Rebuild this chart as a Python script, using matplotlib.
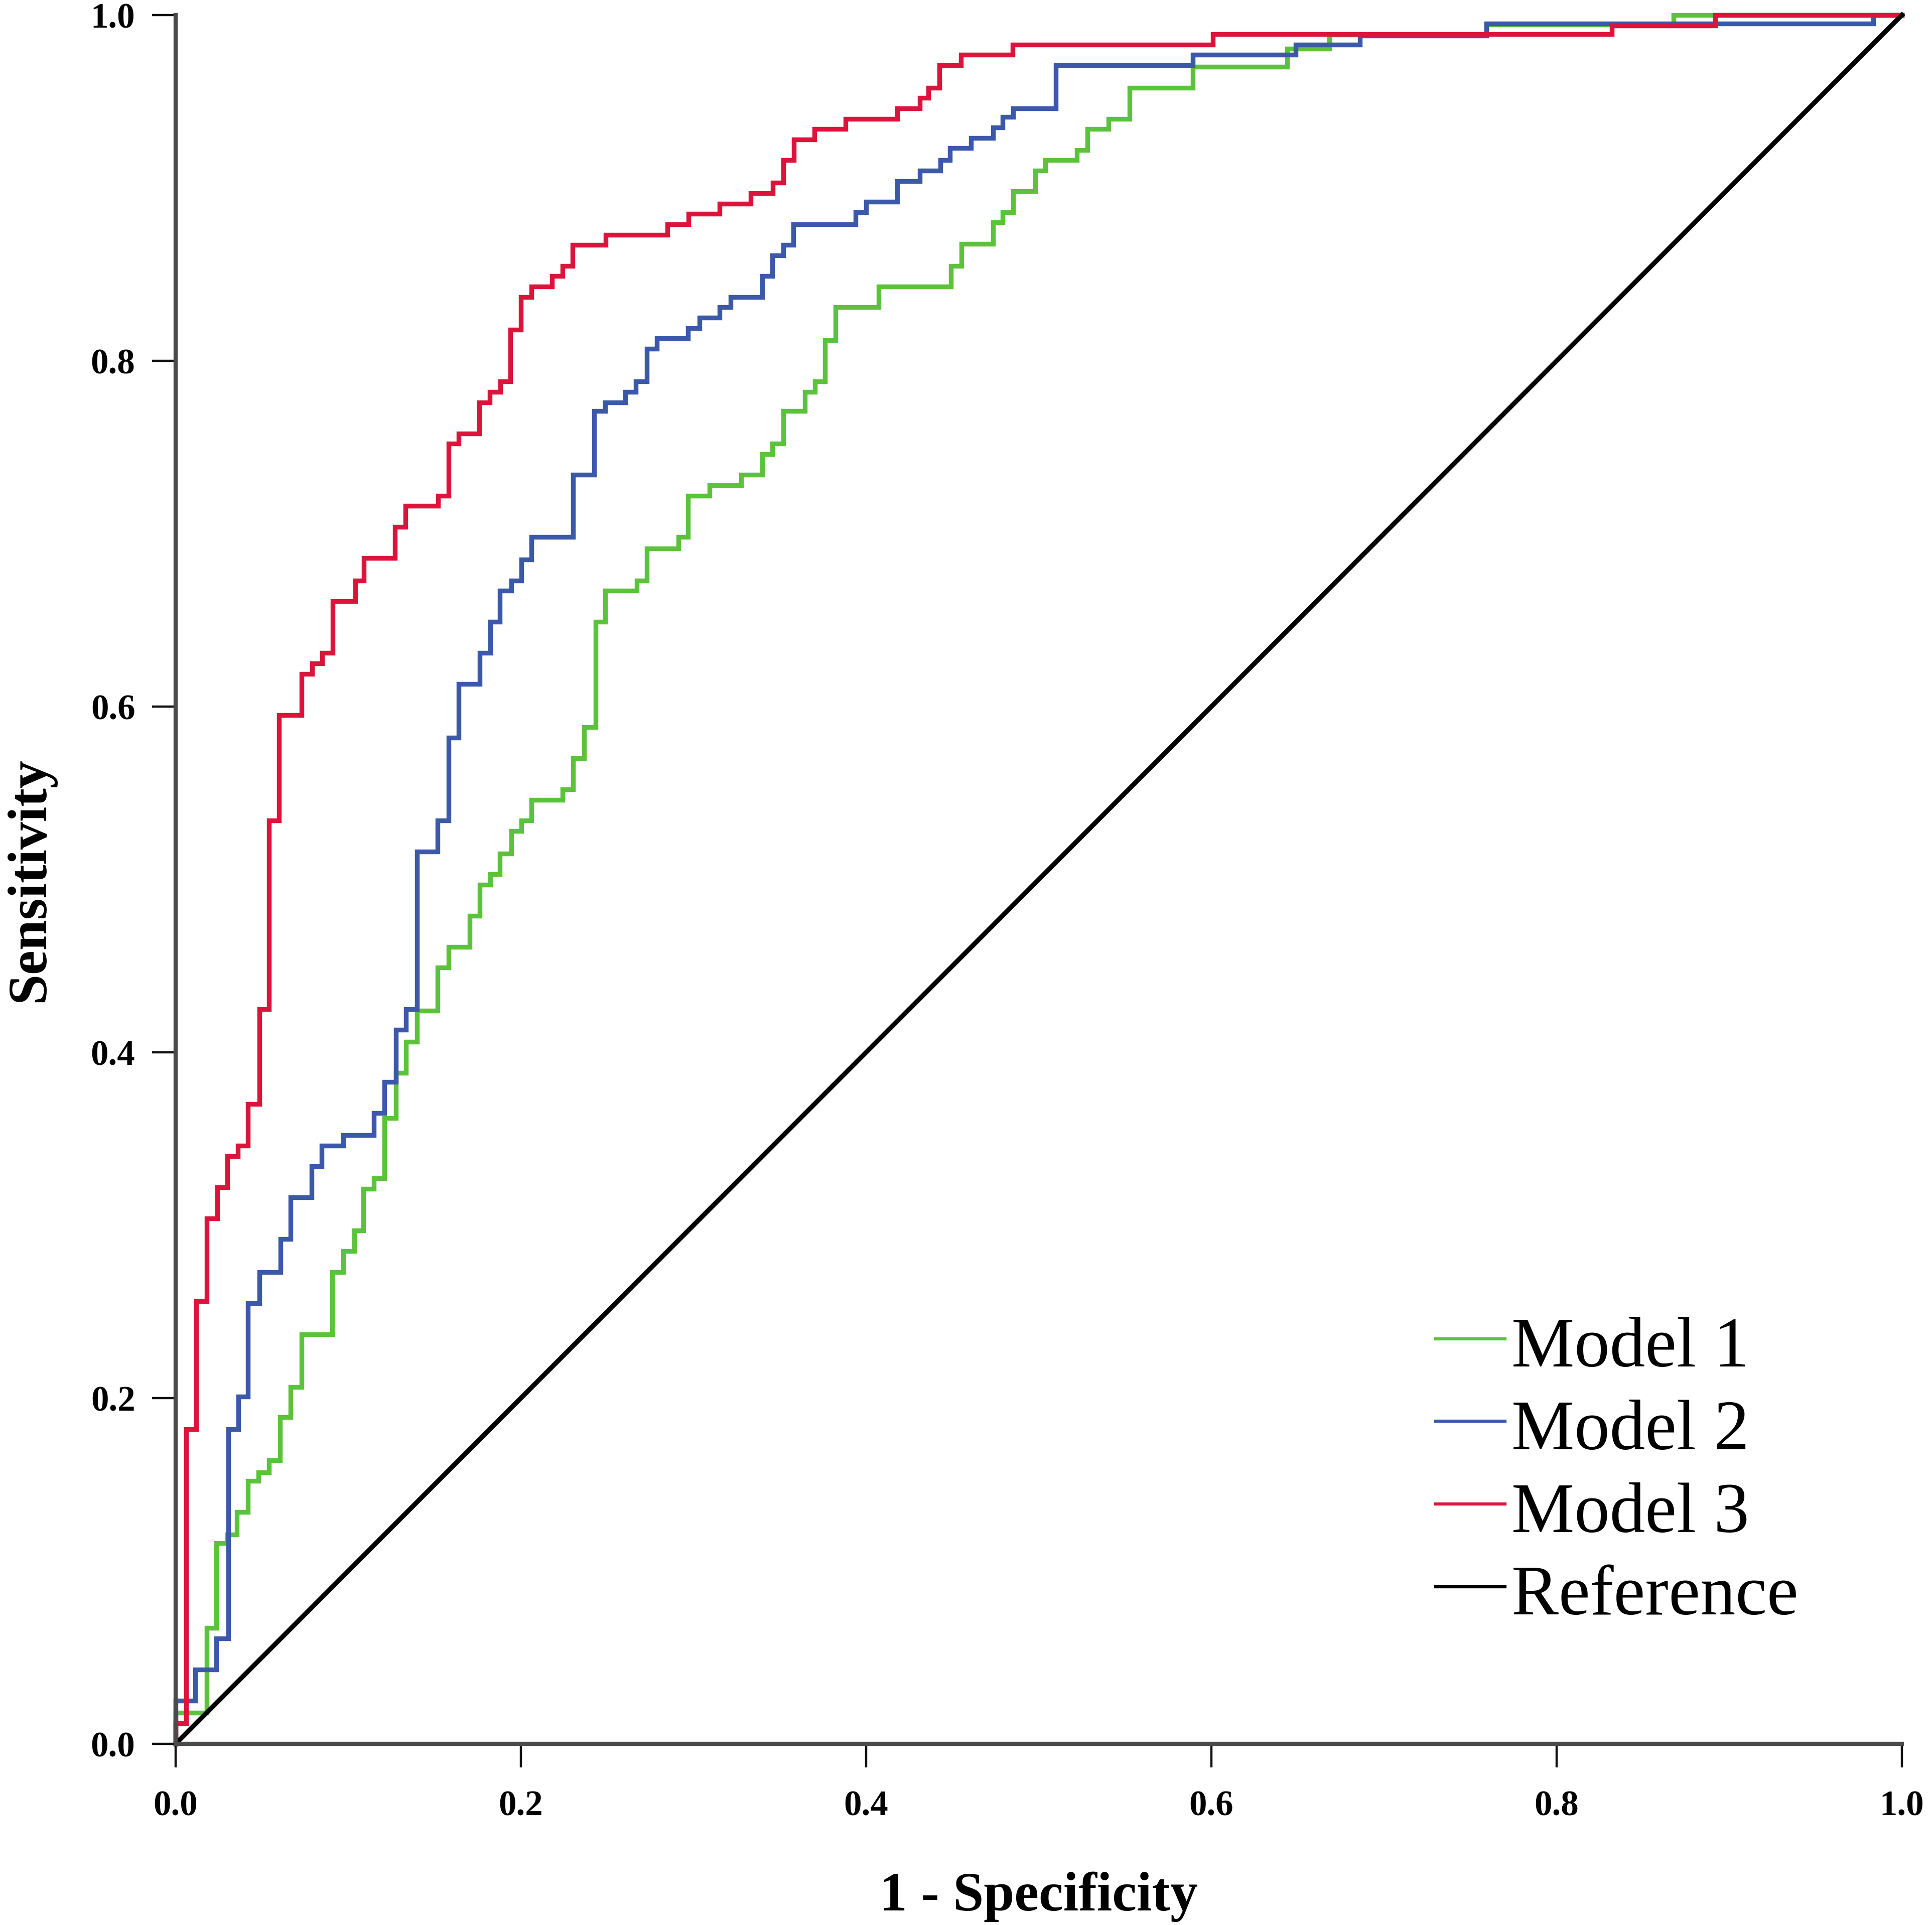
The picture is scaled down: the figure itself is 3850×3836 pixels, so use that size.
import matplotlib
matplotlib.use("Agg")
import matplotlib.pyplot as plt

plt.rcParams['font.family'] = ['Liberation Serif', 'DejaVu Serif']

# ---- data (ROC step corners: at fpr[i] the curve rises to tpr[i]) ----
series_names = ["Model 1", "Model 2", "Model 3", "Reference"]

fpr_model1 = [0, 0, 0.018, 0.0235, 0.030, 0.0355, 0.042, 0.048, 0.054, 0.0605, 0.0667,
              0.0729, 0.0908, 0.0971, 0.1036, 0.1088, 0.1147, 0.121, 0.1277, 0.1334, 0.1399,
              0.1516, 0.1581, 0.1703, 0.1762, 0.1822, 0.1879, 0.1944, 0.2004, 0.2061, 0.2242,
              0.2302, 0.2367, 0.2432, 0.2489, 0.2671, 0.2730, 0.2912, 0.2969, 0.3094, 0.3276,
              0.3398, 0.3457, 0.3519, 0.3644, 0.3703, 0.3763, 0.3824, 0.4072, 0.449, 0.4551,
              0.4735, 0.4792, 0.4853, 0.498, 0.5037, 0.522, 0.5281, 0.5404, 0.5526, 0.5893,
              0.6438, 0.6683, 0.7594, 0.8677, 1.0]
tpr_model1 = [0, 0.018, 0.067, 0.116, 0.121, 0.134, 0.152, 0.157, 0.164, 0.189, 0.2065,
              0.237, 0.273, 0.285, 0.297, 0.321, 0.327, 0.362, 0.388, 0.406, 0.424,
              0.449, 0.461, 0.479, 0.497, 0.503, 0.515, 0.528, 0.534, 0.546, 0.552,
              0.570, 0.588, 0.649, 0.667, 0.673, 0.6915, 0.698, 0.722, 0.728, 0.734,
              0.746, 0.752, 0.771, 0.782, 0.788, 0.812, 0.831, 0.843, 0.855, 0.8675,
              0.880, 0.886, 0.898, 0.910, 0.916, 0.922, 0.934, 0.940, 0.958, 0.970,
              0.9805, 0.9886, 0.9946, 1.0, 1.0]

fpr_model2 = [0, 0, 0.0114, 0.0235, 0.0305, 0.0364, 0.042, 0.0485, 0.0607, 0.0665, 0.0789,
              0.0846, 0.0971, 0.1147, 0.121, 0.1277, 0.1334, 0.1399, 0.1516, 0.1581, 0.164,
              0.1762, 0.1822, 0.1879, 0.1944, 0.2004, 0.2061, 0.2302, 0.2424, 0.2489, 0.2606,
              0.2666, 0.2730, 0.2788, 0.2969, 0.3034, 0.3151, 0.3216, 0.3398, 0.3457, 0.3519,
              0.3579, 0.394, 0.400, 0.418, 0.431, 0.443, 0.4486, 0.4608, 0.4735, 0.4792,
              0.4853, 0.5098, 0.5893, 0.6489, 0.686, 0.7594, 0.9834, 1.0]
tpr_model2 = [0, 0.025, 0.043, 0.061, 0.182, 0.201, 0.255, 0.273, 0.292, 0.316, 0.334,
              0.346, 0.352, 0.365, 0.383, 0.413, 0.425, 0.516, 0.534, 0.582, 0.613,
              0.631, 0.649, 0.667, 0.673, 0.685, 0.698, 0.734, 0.771, 0.776, 0.782,
              0.788, 0.807, 0.813, 0.819, 0.825, 0.831, 0.837, 0.849, 0.861, 0.867,
              0.879, 0.886, 0.892, 0.904, 0.910, 0.916, 0.923, 0.929, 0.935, 0.941,
              0.946, 0.971, 0.977, 0.983, 0.988, 0.995, 1.0, 1.0]

fpr_model3 = [0, 0, 0.006, 0.012, 0.018, 0.024, 0.030, 0.036, 0.042, 0.0485, 0.054,
              0.060, 0.073, 0.079, 0.085, 0.091, 0.104, 0.109, 0.127, 0.133, 0.152,
              0.158, 0.164, 0.176, 0.182, 0.188, 0.194, 0.200, 0.206, 0.218, 0.224,
              0.230, 0.249, 0.285, 0.297, 0.315, 0.333, 0.346, 0.352, 0.358, 0.370,
              0.388, 0.418, 0.431, 0.436, 0.4425, 0.455, 0.485, 0.601, 0.832, 0.892, 1.0]
tpr_model3 = [0, 0.012, 0.182, 0.256, 0.304, 0.322, 0.340, 0.346, 0.370, 0.425, 0.534,
              0.595, 0.619, 0.625, 0.631, 0.661, 0.673, 0.686, 0.704, 0.716, 0.722,
              0.752, 0.758, 0.776, 0.782, 0.788, 0.818, 0.837, 0.843, 0.849, 0.855,
              0.867, 0.873, 0.879, 0.885, 0.891, 0.897, 0.903, 0.916, 0.928, 0.934,
              0.940, 0.946, 0.952, 0.958, 0.971, 0.977, 0.983, 0.989, 0.994, 1.0, 1.0]

ref_x = [0.0, 1.0]
ref_y = [0.0, 1.0]

tick_values = [0.0, 0.2, 0.4, 0.6, 0.8, 1.0]
tick_labels = ["0.0", "0.2", "0.4", "0.6", "0.8", "1.0"]

colors = ["#5CC23C", "#3B58A9", "#DC143C", "#000000"]

# ---- figure ----
W, H = 3850, 3837
fig = plt.figure(figsize=(W / 100, H / 100), dpi=100)
ax = fig.add_axes([350 / W, (H - 3476) / H, 3440 / W, 3445 / H])

lw = 6.8
ax.plot(fpr_model1, tpr_model1, drawstyle="steps-post", color=colors[0], lw=lw,
        clip_on=False, solid_joinstyle="miter", label=series_names[0])
ax.plot(fpr_model2, tpr_model2, drawstyle="steps-post", color=colors[1], lw=lw,
        clip_on=False, solid_joinstyle="miter", label=series_names[1])
ax.plot(fpr_model3, tpr_model3, drawstyle="steps-post", color=colors[2], lw=lw,
        clip_on=False, solid_joinstyle="miter", label=series_names[2])
ax.plot(ref_x, ref_y, color=colors[3], lw=lw, clip_on=False, label=series_names[3])

ax.set_xlim(0, 1)
ax.set_ylim(0, 1)

for side in ["top", "right"]:
    ax.spines[side].set_visible(False)
for side in ["left", "bottom"]:
    ax.spines[side].set_linewidth(6.0)
    ax.spines[side].set_color("#4a4a4a")

ax.set_xticks(tick_values)
ax.set_xticklabels(tick_labels)
ax.set_yticks(tick_values)
ax.set_yticklabels(tick_labels)
ax.tick_params(axis="both", direction="out", length=34, width=3.2, color="#111111")
ax.tick_params(axis="x", pad=32)
ax.tick_params(axis="y", pad=24)
for lab in ax.get_xticklabels() + ax.get_yticklabels():
    lab.set_fontsize(51)
    lab.set_fontweight("bold")

ax.set_xlabel("1 - Specificity", fontsize=79, fontweight="bold")
ax.set_ylabel("Sensitivity", fontsize=79, fontweight="bold")
ax.xaxis.label.set_verticalalignment("baseline")
ax.yaxis.label.set_verticalalignment("baseline")
ax.xaxis.set_label_coords(0.5, (3476 - 3807) / 3445)
ax.yaxis.set_label_coords((87 - 350) / 3440, 0.5)

leg = ax.legend(loc="upper left", bbox_to_anchor=((2861 - 350) / 3440, (3476 - 2614) / 3445),
                frameon=False, fontsize=101.5, handlelength=0.98, handletextpad=0.09,
                handleheight=0.95, labelspacing=0.18, borderpad=0, borderaxespad=0)
for line in leg.get_lines():
    line.set_linewidth(4.5)

fig.savefig("out.png", dpi=100, facecolor="white")
